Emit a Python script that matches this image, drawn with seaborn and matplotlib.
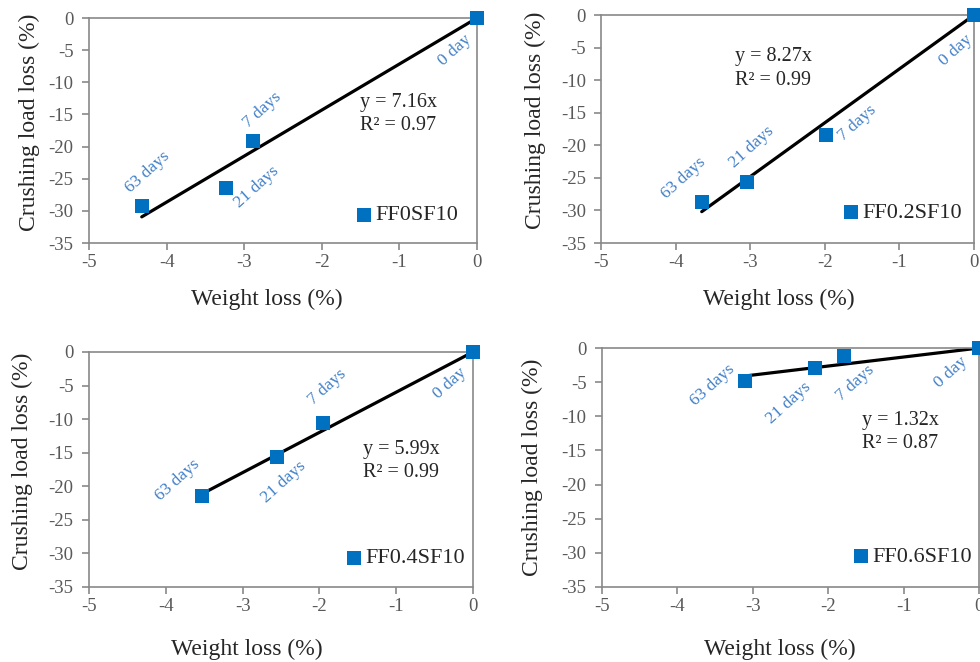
import matplotlib
matplotlib.use("Agg")
import matplotlib.pyplot as plt
import seaborn as sns

# mixes, ages and the values
mixes = ["FF0SF10", "FF0.2SF10", "FF0.4SF10", "FF0.6SF10"]
ages = ["0 day", "7 days", "21 days", "63 days"]

wl_ff0 = [0.0, -2.88, -3.23, -4.32]
cl_ff0 = [0.0, -19.1, -26.5, -29.2]
wl_ff02 = [0.0, -1.99, -3.04, -3.65]
cl_ff02 = [0.0, -18.4, -25.6, -28.7]
wl_ff04 = [0.0, -1.95, -2.55, -3.53]
cl_ff04 = [0.0, -10.6, -15.6, -21.4]
wl_ff06 = [0.0, -1.79, -2.17, -3.10]
cl_ff06 = [0.0, -1.2, -2.9, -4.9]

slopes = [7.16, 8.27, 5.99, 1.32]
r2 = [0.97, 0.99, 0.99, 0.87]

weights = [wl_ff0, wl_ff02, wl_ff04, wl_ff06]
loads = [cl_ff0, cl_ff02, cl_ff04, cl_ff06]

# where the text sits in each panel (data coords)
age_pos = [
    [(-0.28, -5.0), (-2.76, -14.3), (-2.84, -26.3), (-4.25, -24.0)],
    [(-0.25, -5.4), (-1.56, -16.6), (-2.98, -20.3), (-3.90, -25.0)],
    [(-0.30, -4.6), (-1.90, -5.2), (-2.47, -19.4), (-3.84, -19.1)],
    [(-0.38, -3.5), (-1.64, -5.1), (-2.53, -8.1), (-3.54, -5.4)],
]
eq_pos = [(-1.51, -14.9), (-3.20, -8.2), (-1.43, -16.2), (-1.55, -12.3)]
leg_pos = [(0.951, 0.124), (0.968, 0.132), (0.979, 0.123), (0.981, 0.126)]
xlab_pos = [(0.459, -0.205), (0.477, -0.202), (0.411, -0.221), (0.472, -0.218)]
ylab_pos = [(-0.126, 0.535), (-0.147, 0.54), (-0.146, 0.535), (-0.156, 0.5)]
axes_rect = [
    [0.0908, 0.6329, 0.3959, 0.3399],
    [0.6133, 0.6329, 0.3806, 0.3444],
    [0.0908, 0.1133, 0.3918, 0.3550],
    [0.6143, 0.1133, 0.3847, 0.3610],
]

sns.set_theme(style="white")
plt.rcParams['font.family'] = ['Liberation Serif', 'DejaVu Serif']
plt.rcParams['axes.unicode_minus'] = False

blue = "#0070C0"
label_blue = "#3F7FC8"
grey = "#898989"

fig = plt.figure(figsize=(9.8, 6.62), dpi=100)

for i in range(4):
    ax = fig.add_axes(axes_rect[i])
    xs = weights[i]
    ys = loads[i]
    xmin = min(xs)
    sns.lineplot(x=[xmin, 0], y=[slopes[i] * xmin, 0], color="black",
                 linewidth=2.3, ax=ax, zorder=2)
    sns.scatterplot(x=xs, y=ys, marker="s", s=95, color=blue, edgecolor=blue,
                    linewidth=0, ax=ax, label=mixes[i], zorder=3, clip_on=False)

    for age, (tx, ty) in zip(ages, age_pos[i]):
        ax.text(tx, ty, age, rotation=42, color=label_blue, fontsize=12.5,
                ha="center", va="center", rotation_mode="anchor")

    ax.text(eq_pos[i][0], eq_pos[i][1],
            "y = {:.2f}x\nR² = {:.2f}".format(slopes[i], r2[i]),
            fontsize=14.5, color="#262626", ha="left", va="center",
            linespacing=1.3)

    ax.set_xlim(-5, 0)
    ax.set_ylim(-35, 0)
    ax.set_xticks(range(-5, 1))
    ax.set_yticks(range(-35, 1, 5))
    ax.tick_params(axis="both", direction="out", length=5, width=1.2,
                   color=grey, labelsize=13.5, labelcolor="#595959", pad=3,
                   left=True, bottom=True)
    ax.tick_params(axis="y", pad=6)
    for sp in ax.spines.values():
        sp.set_color(grey)
        sp.set_linewidth(1.2)
        sp.set_visible(True)
    ax.set_xlabel("Weight loss (%)", fontsize=17, color="#262626")
    ax.set_ylabel("Crushing load loss (%)", fontsize=17, color="#262626")
    ax.xaxis.set_label_coords(*xlab_pos[i])
    ax.yaxis.set_label_coords(*ylab_pos[i])

    handles, labels = ax.get_legend_handles_labels()
    keep = [(h, l) for h, l in zip(handles, labels) if l == mixes[i]]
    ax.legend([k[0] for k in keep], [k[1] for k in keep],
              loc="center right", bbox_to_anchor=leg_pos[i],
              frameon=False, fontsize=16, handletextpad=0.0,
              handlelength=1.0, borderpad=0, borderaxespad=0,
              labelcolor="#262626")

fig.savefig("out.png", dpi=100)
